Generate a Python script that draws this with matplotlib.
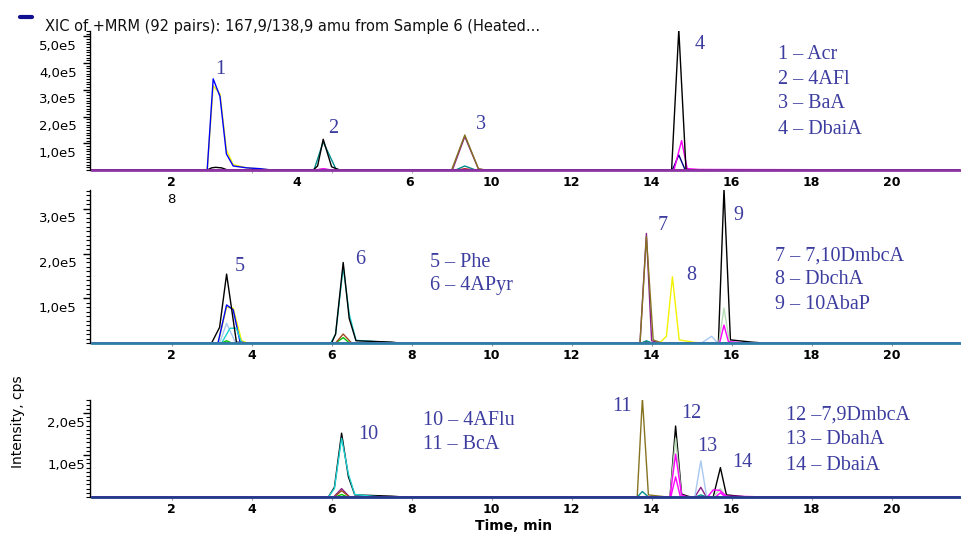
import matplotlib
matplotlib.use("Agg")
import matplotlib.pyplot as plt
import matplotlib.transforms as mtransforms
from matplotlib.lines import Line2D
from matplotlib.ticker import MultipleLocator

# ---- data (time in min, intensity in cps) ----
END = 21.8

# top panel: peaks 1-4
top_yellow_t = [0, 2.89, 3.04, 3.21, 3.37, 3.54, 3.88, 4.21, 4.5, END]
top_yellow_y = [0, 0, 3.15e5, 2.85e5, 0.75e5, 0.2e5, 0.08e5, 0.04e5, 0, 0]
top_blue_t = [0, 2.89, 3.04, 3.21, 3.37, 3.54, 3.88, 4.21, 4.5, END]
top_blue_y = [0, 0, 3.41e5, 2.75e5, 0.6e5, 0.15e5, 0.08e5, 0.05e5, 0, 0]
top_teal_t = [0, 5.56, 5.79, 6.1, 6.2, 9.1, 9.33, 9.6, END]
top_teal_y = [0, 0, 1.05e5, 0.06e5, 0, 0, 0.15e5, 0, 0]
top_green_t = [0, 5.6, 5.79, 6.0, END]
top_green_y = [0, 0, 0.03e5, 0, 0]
top_red_t = [0, 9.15, 9.33, 9.55, END]
top_red_y = [0, 0, 0.05e5, 0, 0]
top_black_t = [0, 2.89, 3.0, 3.1, 3.25, 3.4, 5.54, 5.65, 5.79, 6.0, 6.2,
               14.5, 14.68, 14.86, 14.96, END]
top_black_y = [0, 0, 0.08e5, 0.1e5, 0.08e5, 0, 0, 0.15e5, 1.15e5, 0.12e5, 0,
               0, 5.25e5, 0.03e5, 0, 0]
top_navy_t = [0, 14.52, 14.68, 14.84, END]
top_navy_y = [0, 0, 0.56e5, 0, 0]
top_magenta_t = [0, 5.6, 5.79, 6.0, 14.56, 14.75, 14.89, 15.2, 18.5, 18.7, END]
top_magenta_y = [0, 0, 0.05e5, 0, 0, 1.1e5, 0.05e5, 0.02e5, 0.01e5, 0, 0]
top_olive_t = [0, 9.0, 9.33, 9.67, 9.85, END]
top_olive_y = [0, 0, 1.31e5, 0.05e5, 0, 0]
top_purple_t = [0, 9.02, 9.33, 9.67, 9.8, END]
top_purple_y = [0, 0, 1.25e5, 0.04e5, 0, 0]

# middle panel: peaks 5-9
mid_yellow_t = [0, 3.16, 3.375, 3.54, 3.75, 3.9, 14.2, 14.37, 14.52, 14.69, 15.1, 15.3, END]
mid_yellow_y = [0, 0, 0.8e5, 0.78e5, 0.05e5, 0, 0, 0.15e5, 1.48e5, 0.07e5, 0.01e5, 0, 0]
mid_lightblue_t = [0, 3.2, 3.375, 3.6, 15.25, 15.5, 15.65, END]
mid_lightblue_y = [0, 0, 0.44e5, 0, 0, 0.15e5, 0, 0]
mid_cyan_t = [0, 3.25, 3.46, 3.62, 3.75, 5.98, 6.1, 6.29, 6.44, 6.61, 7.3, 7.6, END]
mid_cyan_y = [0, 0, 0.33e5, 0.33e5, 0, 0, 0.2e5, 1.7e5, 0.65e5, 0.06e5, 0.02e5, 0, 0]
mid_blue_t = [0, 3.16, 3.375, 3.54, 3.71, 3.85, END]
mid_blue_y = [0, 0, 0.85e5, 0.74e5, 0.03e5, 0, 0]
mid_green_t = [0, 3.25, 3.375, 3.5, 6.1, 6.29, 6.45, END]
mid_green_y = [0, 0, 0.05e5, 0, 0, 0.12e5, 0, 0]
mid_brown_t = [0, 6.1, 6.29, 6.5, 13.75, 13.87, 14.0, END]
mid_brown_y = [0, 0, 0.2e5, 0, 0, 0.03e5, 0, 0]
mid_purple_t = [0, 13.71, 13.87, 14.0, 14.2, END]
mid_purple_y = [0, 0, 2.45e5, 0.05e5, 0, 0]
mid_olive_t = [0, 13.71, 13.87, 14.04, 14.25, END]
mid_olive_y = [0, 0, 2.38e5, 0.07e5, 0, 0]
mid_teal_t = [0, 13.75, 13.87, 14.0, END]
mid_teal_y = [0, 0, 0.05e5, 0, 0]
mid_black_t = [0, 3.0, 3.2, 3.375, 3.62, 3.8, 6.0, 6.1, 6.29, 6.44, 6.61, 7.5, 7.7,
               15.67, 15.81, 15.97, 16.5, 16.8, END]
mid_black_y = [0, 0, 0.35e5, 1.54e5, 0.02e5, 0, 0, 0.2e5, 1.8e5, 0.55e5, 0.05e5, 0.02e5, 0,
               0, 3.45e5, 0.07e5, 0.02e5, 0, 0]
mid_lightgreen_t = [0, 15.68, 15.81, 15.95, END]
mid_lightgreen_y = [0, 0, 0.78e5, 0, 0]
mid_magenta_t = [0, 15.7, 15.81, 15.92, 16.2, 16.4, END]
mid_magenta_y = [0, 0, 0.4e5, 0.03e5, 0.01e5, 0, 0]

# bottom panel: peaks 10-14
bot_cyan_t = [0, 5.92, 6.07, 6.25, 6.42, 6.58, 7.0, 7.3, END]
bot_cyan_y = [0, 0, 0.2e5, 1.4e5, 0.55e5, 0.06e5, 0.02e5, 0, 0]
bot_black_t = [0, 5.92, 6.07, 6.25, 6.42, 6.58, 7.5, 7.8, 14.46, 14.6, 14.75, 14.9, 15.0,
               15.54, 15.72, 15.87, 16.2, 16.4, END]
bot_black_y = [0, 0, 0.23e5, 1.52e5, 0.48e5, 0.05e5, 0.02e5, 0, 0, 1.69e5, 0.07e5, 0.02e5, 0,
               0, 0.7e5, 0.05e5, 0.02e5, 0, 0]
bot_purple_t = [0, 6.05, 6.25, 6.45, 15.08, 15.23, 15.37, END]
bot_purple_y = [0, 0, 0.2e5, 0, 0, 0.23e5, 0, 0]
bot_brown_t = [0, 6.07, 6.25, 6.45, END]
bot_brown_y = [0, 0, 0.15e5, 0, 0]
bot_green_t = [0, 6.1, 6.25, 6.4, END]
bot_green_y = [0, 0, 0.06e5, 0, 0]
bot_olive_t = [0, 13.64, 13.77, 13.92, 14.2, 14.4, END]
bot_olive_y = [0, 0, 2.35e5, 0.05e5, 0.02e5, 0, 0]
bot_teal_t = [0, 13.64, 13.77, 13.92, 15.1, 15.23, 15.37, END]
bot_teal_y = [0, 0, 0.13e5, 0, 0, 0.05e5, 0, 0]
bot_lightgreen_t = [0, 14.46, 14.6, 14.75, 15.55, 15.72, 15.87, END]
bot_lightgreen_y = [0, 0, 1.4e5, 0, 0, 0.2e5, 0, 0]
bot_lightblue_t = [0, 15.08, 15.23, 15.37, 15.5, END]
bot_lightblue_y = [0, 0, 0.86e5, 0.04e5, 0, 0]
bot_magenta_t = [0, 14.46, 14.6, 14.75, 14.9, 15.4, 15.54, 15.7, 15.87, 16.5, 16.8, END]
bot_magenta_y = [0, 0, 1.02e5, 0.05e5, 0, 0, 0.17e5, 0.16e5, 0.02e5, 0.01e5, 0, 0]
bot_magenta2_t = [0, 14.48, 14.6, 14.72, 15.6, 15.72, 15.85, END]
bot_magenta2_y = [0, 0, 0.48e5, 0, 0, 0.1e5, 0, 0]

baseline_t = [0, END]
baseline_y = [0, 0]

# tick labels
top_xtick_pos = [2, 5.13, 7.96, 10, 12, 14, 16, 18, 20]
top_xtick_lab = ['2', '4', '6', '10', '12', '14', '16', '18', '20']
xtick_pos = [2, 4, 6, 8, 10, 12, 14, 16, 18, 20]
top_yticks = [1e5, 2e5, 3e5, 4e5, 5e5]
mid_yticks = [1e5, 2e5, 3e5]
bot_yticks = [1e5, 2e5]

# annotations
top_peaks = [('1', 3.21, 3.75e5), ('2', 6.03, 1.57e5), ('3', 9.73, 1.69e5), ('4', 15.2, 4.68e5)]
top_names = ['1 – Acr', '2 – 4AFl', '3 – BaA', '4 – DbaiA']
mid_peaks = [('5', 3.71, 1.70e5), ('6', 6.71, 1.86e5), ('7', 14.27, 2.62e5),
             ('8', 15.0, 1.51e5), ('9', 16.17, 2.86e5)]
mid_names_a = ['5 – Phe', '6 – 4APyr']
mid_names_b = ['7 – 7,10DmbcA', '8 – DbchA', '9 – 10AbaP']
bot_peaks = [('10', 6.92, 1.48e5), ('11', 13.25, 2.15e5), ('12', 15.0, 1.99e5),
             ('13', 15.38, 1.2e5), ('14', 16.28, 0.82e5)]
bot_names_a = ['10 – 4AFlu', '11 – BcA']
bot_names_b = ['12 –7,9DmbcA', '13 – DbahA', '14 – DbaiA']

# ---- drawing ----
W, H = 961, 533
fig = plt.figure(figsize=(W / 100, H / 100), dpi=100)
plt.rcParams['font.family'] = ['DejaVu Sans']

def px_axes(top, bottom):
    return fig.add_axes([90 / W, 1 - bottom / H, 870 / W, (bottom - top) / H])

ax_top = px_axes(31, 170)
ax_mid = px_axes(190, 343)
ax_bot = px_axes(400, 497)

ANN = '#3d3da0'
SERIF = 'Liberation Serif'
LW = 1.0

C = {
    'yellow': '#f2f200', 'blue': '#0000ff', 'teal': '#008c8c', 'cyan': '#1fd3d3',
    'green': '#00c000', 'red': '#c02020', 'brown': '#a04a20', 'black': '#000000',
    'navy': '#000080', 'magenta': '#ff00ff', 'olive': '#857320', 'purple': '#8a1f8a',
    'lightblue': '#a8c8f0', 'lightgreen': '#b8dcb8',
}

top_traces = [
    (top_yellow_t, top_yellow_y, C['yellow']), (top_blue_t, top_blue_y, C['blue']),
    (top_teal_t, top_teal_y, C['teal']), (top_green_t, top_green_y, C['green']),
    (top_red_t, top_red_y, C['red']), (top_purple_t, top_purple_y, C['purple']),
    (top_olive_t, top_olive_y, C['olive']), (top_navy_t, top_navy_y, C['navy']),
    (top_magenta_t, top_magenta_y, C['magenta']), (top_black_t, top_black_y, C['black']),
]
mid_traces = [
    (mid_yellow_t, mid_yellow_y, C['yellow']), (mid_lightblue_t, mid_lightblue_y, C['lightblue']),
    (mid_blue_t, mid_blue_y, C['blue']), (mid_cyan_t, mid_cyan_y, C['cyan']),
    (mid_green_t, mid_green_y, C['green']), (mid_brown_t, mid_brown_y, C['brown']),
    (mid_purple_t, mid_purple_y, C['purple']), (mid_olive_t, mid_olive_y, C['olive']),
    (mid_teal_t, mid_teal_y, C['teal']), (mid_black_t, mid_black_y, C['black']),
    (mid_lightgreen_t, mid_lightgreen_y, C['lightgreen']),
    (mid_magenta_t, mid_magenta_y, C['magenta']),
]
bot_traces = [
    (bot_black_t, bot_black_y, C['black']), (bot_cyan_t, bot_cyan_y, C['cyan']),
    (bot_purple_t, bot_purple_y, C['purple']), (bot_brown_t, bot_brown_y, C['brown']),
    (bot_green_t, bot_green_y, C['green']), (bot_olive_t, bot_olive_y, C['olive']),
    (bot_teal_t, bot_teal_y, C['teal']), (bot_lightgreen_t, bot_lightgreen_y, C['lightgreen']),
    (bot_lightblue_t, bot_lightblue_y, C['lightblue']),
    (bot_magenta_t, bot_magenta_y, C['magenta']), (bot_magenta2_t, bot_magenta2_y, C['magenta']),
]

panels = [
    (ax_top, top_traces, '#8e35a5', 5.2e5, top_yticks, 4.5),
    (ax_mid, mid_traces, '#2b7ea5', 3.42e5, mid_yticks, 4.5),
    (ax_bot, bot_traces, '#1f3c88', 2.31e5, bot_yticks, -1.5),
]

off = mtransforms.ScaledTranslation(0, -0.085, fig.dpi_scale_trans)

for ax, traces, base_col, ymax, yt, ypad in panels:
    for t, y, col in traces:
        ax.plot(t, y, color=col, lw=LW, clip_on=True)
    ax.plot(baseline_t, baseline_y, color=base_col, lw=2.0, clip_on=False, zorder=5)
    ax.set_xlim(-0.04, 21.71)
    ax.set_ylim(0, ymax)
    for s in ['top', 'right', 'bottom']:
        ax.spines[s].set_visible(False)
    ax.spines['left'].set_linewidth(1.0)
    ax.set_yticks(yt)
    ax.set_yticklabels([('%.1fe5' % (v / 1e5)).replace('.', ',') for v in yt], fontsize=9.5)
    ax.yaxis.set_minor_locator(MultipleLocator(1e4))
    ax.tick_params(axis='y', which='major', length=5, width=1, pad=ypad)
    ax.tick_params(axis='y', which='minor', length=3, width=0.8)
    for lab in ax.get_yticklabels():
        lab.set_transform(lab.get_transform() + off)
    ax.tick_params(axis='x', which='both', length=2, color='#999999', pad=2.5)
    ax.patch.set_alpha(0)

# x ticks
ax_top.set_xticks(top_xtick_pos)
ax_top.set_xticklabels(top_xtick_lab, fontsize=9, fontweight='bold')
ax_top.tick_params(axis='x', which='major', length=0, pad=4)
ax_top.set_xticks(xtick_pos, minor=True)
for ax in (ax_mid, ax_bot):
    ax.set_xticks(xtick_pos)
    ax.set_xticklabels([str(v) for v in xtick_pos], fontsize=9, fontweight='bold')

# stray label under the top panel
ax_top.text(2, -0.215, '8', transform=ax_top.get_xaxis_transform(), ha='center',
            va='center', fontsize=9.5)

# peak numbers and compound names
def ann(ax, peaks, names_list):
    for lab, t, y in peaks:
        ax.text(t, y, lab, color=ANN, family=SERIF, fontsize=14.5, ha='center', va='center')
    for x0, y_rows, names in names_list:
        for y, name in zip(y_rows, names):
            ax.text(x0, y, name, color=ANN, family=SERIF, fontsize=14.5, ha='left', va='center')

ann(ax_top, top_peaks, [(17.16, [4.31e5, 3.37e5, 2.47e5, 1.5e5], top_names)])
ann(ax_mid, mid_peaks, [(8.46, [1.81e5, 1.28e5], mid_names_a),
                        (17.08, [1.95e5, 1.41e5, 0.85e5], mid_names_b)])
ann(ax_bot, bot_peaks, [(8.29, [1.83e5, 1.24e5], bot_names_a),
                        (17.37, [1.95e5, 1.36e5, 0.74e5], bot_names_b)])

# header
fig.add_artist(Line2D([20 / W, 32 / W], [1 - 17 / H, 1 - 17 / H], color='#101090', lw=3,
                      solid_capstyle='round', transform=fig.transFigure))
fig.text(45 / W, 1 - 26 / H, 'XIC of +MRM (92 pairs): 167,9/138,9 amu from Sample 6 (Heated...',
         fontsize=10.5, ha='left', va='center', color='#111111')

fig.text(514 / W, 1 - 526 / H, 'Time, min', fontsize=10, fontweight='bold', ha='center', va='center')
fig.text(18 / W, 1 - 422 / H, 'Intensity, cps', fontsize=10, rotation=90, ha='center', va='center')

fig.savefig('out.png', dpi=100)
